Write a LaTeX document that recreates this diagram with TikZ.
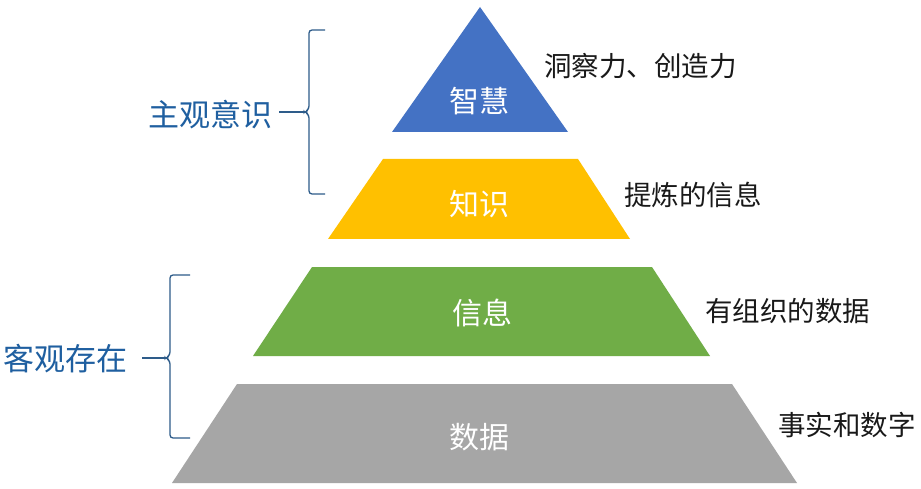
\documentclass[tikz,border=0pt]{standalone}
\usepackage{fontspec}
\setmainfont{Noto Sans CJK SC}
\newfontfamily\cjk{Noto Sans CJK SC}
\definecolor{wisdom}{HTML}{4472C4}
\definecolor{know}{HTML}{FFC000}
\definecolor{info}{HTML}{70AD47}
\definecolor{datagray}{HTML}{A6A6A6}
\definecolor{brace}{HTML}{2E5C8A}
\definecolor{sidetext}{HTML}{1F5FA0}
\begin{document}
\begin{tikzpicture}[x=1pt,y=-1pt,
  inlabel/.style={font=\cjk\fontsize{30}{31}\selectfont, text=white, inner sep=0pt},
  rlabel/.style={font=\cjk\fontsize{27.5}{29}\selectfont, text=black!90, anchor=west, inner sep=0pt},
  slabel/.style={font=\cjk\fontsize{31}{32}\selectfont, text=sidetext, inner sep=0pt},
  bracestyle/.style={draw=brace, line width=1.3pt, rounded corners=3pt},
  ticks/.style={draw=brace, line width=1.3pt}]
\useasboundingbox (0,0) rectangle (921,489);
\fill[white] (0,0) rectangle (921,489);
% layers
\fill[wisdom] (480,7) -- (568,132) -- (392,132) -- cycle;
\fill[know] (383,159) -- (578,159) -- (630,239) -- (328,239) -- cycle;
\fill[info] (312,267) -- (652,267) -- (710,356) -- (253,356) -- cycle;
\fill[datagray] (237,384) -- (732,384) -- (797,483) -- (172,483) -- cycle;
% inner labels
\node[inlabel] (wis) at (479,101) {智慧};
\node[inlabel] (kno) at (479,204) {知识};
\node[inlabel] (inf) at (482,313) {信息};
\node[inlabel] (dat) at (479,437) {数据};
% right labels
\node[rlabel] (r1) at (544,66) {洞察力、创造力};
\node[rlabel] (r2) at (624,195) {提炼的信息};
\node[rlabel] (r3) at (705,311) {有组织的数据};
\node[rlabel] (r4) at (778,425) {事实和数字};
% side labels
\node[slabel] (s1) at (210,115) {主观意识};
\node[slabel] (s2) at (66,359) {客观存在};
% braces
\coordinate (b1t) at (325,30);
\coordinate (b1b) at (325,194);
\coordinate (b1m) at (305,112);
\path[bracestyle] (b1t) -- (309,30) -- (309,109) -- (305,112) -- (309,115) -- (309,194) -- (b1b);
\draw[ticks] (279,112) -- (b1m);
\coordinate (b2t) at (190,275);
\coordinate (b2b) at (190,438);
\coordinate (b2m) at (166,358);
\path[bracestyle] (b2t) -- (170,275) -- (170,355) -- (166,358) -- (170,361) -- (170,438) -- (b2b);
\draw[ticks] (142,358) -- (b2m);
\end{tikzpicture}
\end{document}
